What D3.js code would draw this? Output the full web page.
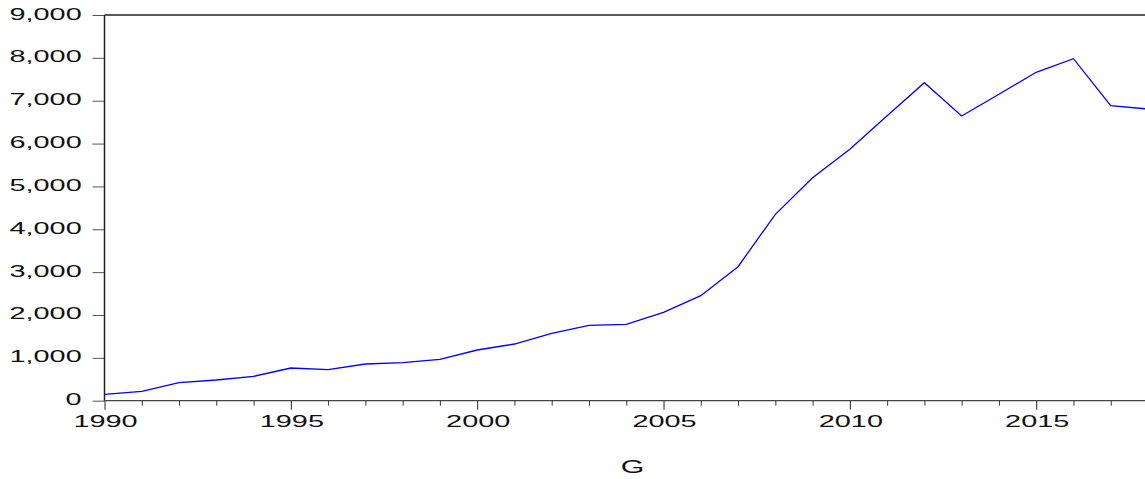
<!DOCTYPE html>
<html>
<head>
<meta charset="utf-8">
<script src="https://cdn.jsdelivr.net/npm/d3@7"></script>
<style>
  body { margin: 0; background: #fff; }
  svg { display: block; }
  text { font-family: "Liberation Sans", Arial, sans-serif; fill: #111; }
</style>
</head>
<body>
<script>
// series G, yearly
var years = [1990,1991,1992,1993,1994,1995,1996,1997,1998,1999,
             2000,2001,2002,2003,2004,2005,2006,2007,2008,2009,
             2010,2011,2012,2013,2014,2015,2016,2017,2018];
var values = [149,219,420,483,569,763,723,856,887,966,
              1183,1323,1572,1759,1783,2063,2451,3127,4349,5204,
              5866,6650,7420,6643,7150,7663,7980,6884,6806];
var yTicks = [0,1000,2000,3000,4000,5000,6000,7000,8000,9000];
var xMajor = [1990,1995,2000,2005,2010,2015];
var seriesName = "G";

var W = 1145, H = 479;
// plot edges (window.top is taken, so p-prefixed names)
var pLeft = 104.5, pRight = 1148, pTop = 15, pBottom = 400.7;
var sx = 1.7; // text in the picture is drawn wide

var svg = d3.select("body").append("svg")
    .attr("width", W)
    .attr("height", H);

var x = d3.scaleLinear().domain([1990, 2018]).range([pLeft, pRight]);
var y = d3.scaleLinear().domain([0, 9000]).range([pBottom, pTop]);

// y axis
var yAxis = svg.append("g")
    .attr("transform", "translate(" + pLeft + ",0)")
    .call(d3.axisLeft(y).tickValues(yTicks).tickSize(12).tickFormat(d3.format(",")));
yAxis.select(".domain").remove();
yAxis.selectAll("line").attr("stroke", "#555");
yAxis.selectAll("text")
    .attr("x", null).attr("dy", null)
    .attr("transform", "translate(-22.8,4) scale(" + sx + ",1)")
    .attr("text-anchor", "end")
    .style("font-size", "17px")
    .attr("fill", "#111");

// x axis, minor ticks every year
var xMinor = svg.append("g")
    .attr("transform", "translate(0," + pBottom + ")")
    .call(d3.axisBottom(x).tickValues(years.filter(function(d) { return d % 5 != 0; })).tickSize(5).tickFormat(""));
xMinor.select(".domain").remove();
xMinor.selectAll("line").attr("stroke", "#333");

var xAxis = svg.append("g")
    .attr("transform", "translate(0," + pBottom + ")")
    .call(d3.axisBottom(x).tickValues(xMajor).tickSize(9).tickFormat(d3.format("d")));
xAxis.select(".domain").remove();
xAxis.selectAll("line").attr("stroke", "#222");
xAxis.selectAll("text")
    .attr("y", null).attr("dy", null)
    .attr("transform", "translate(0.5,26.3) scale(" + sx + ",1)")
    .style("font-size", "17px")
    .attr("fill", "#111");

// frame
svg.append("line")
    .attr("x1", pLeft).attr("x2", pRight).attr("y1", pTop).attr("y2", pTop)
    .attr("stroke", "#222").attr("stroke-width", 1.5);
svg.append("line")
    .attr("x1", pLeft).attr("x2", pLeft).attr("y1", pTop).attr("y2", pBottom)
    .attr("stroke", "#222").attr("stroke-width", 1.5);
svg.append("line")
    .attr("x1", pLeft).attr("x2", pRight).attr("y1", pBottom).attr("y2", pBottom)
    .attr("stroke", "#444").attr("stroke-width", 1.2);

// the series
var line = d3.line()
    .x(function(d, i) { return x(years[i]); })
    .y(function(d) { return y(d); });

svg.append("path")
    .datum(values)
    .attr("d", line)
    .attr("fill", "none")
    .attr("stroke", "#0000ff")
    .attr("stroke-width", 1.3);

// series name under the axis
svg.append("text")
    .attr("transform", "translate(" + 632.5 + ",473) scale(1.6,1)")
    .attr("text-anchor", "middle")
    .style("font-size", "19px")
    .text(seriesName);
</script>
</body>
</html>
